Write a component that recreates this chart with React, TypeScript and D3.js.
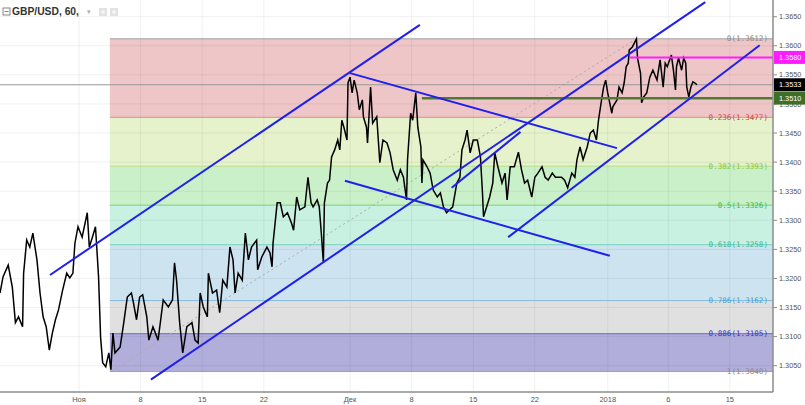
import React from 'react';
import * as d3 from 'd3';

// 2-hour bar index (trading time) and price
const bars = [0,3,8,12,15,18,22,23,26,29,32,36,39,42,45,48,51,54,57,61,65,68,71,73,76,80,85,87,90,93,94,96,98,100,103,106,108,110,112,117,120,124,128,130,133,136,139,143,145,149,154,159,164,168,170,172,175,178,182,187,190,
193,195,198,202,203,207,211,214,217,221,224,227,229,232,236,239,242,245,250,251,255,260,263,265,266,270,273,276,280,284,286,289,292,297,300,303,305,309,311,313,315,316,319,321,323,326,329,331,333,335,338,339,341,343,345,348,350,353,354,357,358,361,363,367,370,373,377,380,383,387,390,393,396,397,400,402,405,407,410,411,412,416,419,422,426,429,432,435,438,441,445,448,450,453,455,458,461,465,468,470,471,474,477,480,482,485,489,492,494,497,501,505,508,511,514,518,521,524,528,531,534,538,541,544,547,550,553,557,560,562,565,568,572,575,578,581,583,586,588,590,592,596,597,601,603,606,608,610,612,613,616,618,620,621,624,625,627,630,633,636,640,643,646,648,650,654,656,658,659,661,664,666,668,669,671,673,675,677,679];
const closes = [1.3175,1.3203,1.3223,1.3185,1.3124,1.3134,1.3117,1.3209,1.3266,1.3254,1.3278,1.3232,1.3175,1.3134,1.3117,1.3077,1.3106,1.3129,1.3146,1.3180,1.3209,1.3201,1.3209,1.3261,1.3289,1.3271,1.3313,1.3254,1.3271,1.3289,1.3261,1.3203,1.3099,1.3055,1.3048,1.3072,1.3043,1.3106,1.3072,1.3082,1.3117,1.3168,1.3175,1.3158,1.3129,1.3168,1.3172,1.3134,1.3094,1.3117,1.3094,1.3163,1.3151,1.3163,1.3227,1.3197,1.3124,1.3072,1.3117,1.3124,1.3094,
1.3089,1.3175,1.3151,1.3134,1.3209,1.3175,1.3180,1.3141,1.3197,1.3185,1.3254,1.3232,1.3175,1.3209,1.3197,1.3278,1.3232,1.3254,1.3266,1.3215,1.3237,1.3254,1.3244,1.3220,1.3261,1.3330,1.3330,1.3306,1.3313,1.3295,1.3283,1.3340,1.3318,1.3323,1.3374,1.3330,1.3323,1.3335,1.3323,1.3278,1.3227,1.3330,1.3364,1.3369,1.3409,1.3421,1.3438,1.3421,1.3472,1.3460,1.3438,1.3536,1.3546,1.3519,1.3541,1.3519,1.3490,1.3507,1.3478,1.3460,1.3433,1.3529,1.3467,1.3478,1.3399,1.3438,1.3433,1.3416,1.3387,1.3369,1.3387,1.3374,1.3335,1.3404,1.3484,1.3472,1.3519,1.3460,1.3426,1.3364,1.3404,1.3392,1.3381,1.3352,1.3340,1.3347,1.3323,1.3313,1.3318,1.3323,1.3364,1.3374,1.3421,1.3438,1.3455,1.3416,1.3438,1.3438,1.3409,1.3347,1.3306,1.3323,1.3340,1.3364,1.3416,1.3392,1.3364,1.3381,1.3335,1.3392,1.3392,1.3417,1.3387,1.3364,1.3369,1.3340,1.3374,1.3381,1.3392,1.3374,1.3369,1.3381,1.3374,1.3374,1.3374,1.3369,1.3356,1.3381,1.3374,1.3404,1.3426,1.3404,1.3426,1.3450,1.3455,1.3438,1.3472,1.3507,1.3529,1.3541,1.3519,1.3484,1.3495,1.3507,1.3529,1.3519,1.3536,1.3564,1.3570,1.3593,1.3598,1.3605,1.3612,1.3579,1.3552,1.3502,1.3512,1.3519,1.3546,1.3558,1.3541,1.3576,1.3529,1.3570,1.3564,1.3584,1.3558,1.3524,1.3564,1.3579,1.3558,1.3579,1.3570,1.3529,1.3512,1.3529,1.3538,1.3536,1.3533];

const tickBars = [77,137,197,257,341,401,461,521,592,651,711];
const tickLabels = ['Ноя','8','15','22','Дек','8','15','22','2018','6','15'];
const priceTicks = [1.305,1.31,1.315,1.32,1.325,1.33,1.335,1.34,1.345,1.35,1.355,1.36,1.365];

const fibRatios = ['0','0.236','0.382','0.5','0.618','0.786','0.886','1'];
const fibPrices = [1.3612,1.3477,1.3393,1.3326,1.3258,1.3162,1.3105,1.3040];
const fibStartBar = 107;
const fibDiag = [[108,1.3040],[620,1.3612]];

// trend lines: [bar1, price1, bar2, price2]
const trendLines = [
  [48.7,1.3206,409,1.3636],
  [147,1.3026,687,1.3675],
  [341,1.3553,601,1.3424],
  [336,1.3368,594,1.3239],
  [440,1.3356,507,1.3452],
  [495,1.3271,740,1.3601],
];

const lastPrice = 1.3533;
const magentaLevel = { price: 1.3580, fromBar: 613 };
const greenLevel = { price: 1.3510, fromBar: 411 };

const W = 805, H = 405, PR = 773, PB = 392;
const fibFill = ['#efc6c8','#e6f2cb','#c9f0c9','#c9f1e1','#cde3f0','#e0e0e0','#b2aedb'];
const fibLine = ['#a0a0a0','#e08a8a','#b9dc86','#76d476','#74d2bb','#86bcdc','#6a66cc','#a0a0a0'];
const fibText = ['#8a8a8a','#d04848','#8cc63f','#45b845','#3cb89a','#4f9fd0','#3333cc','#8a8a8a'];

export default function App() {
  const x = d3.scaleLinear().domain([0, 753]).range([0, PR]);
  const y = d3.scaleLinear().domain([1.30048, 1.36787]).range([PB, 0]);
  const line = d3.line<number>().x((_, i) => x(bars[i])).y((d) => y(d));
  const xr = x(753);
  const sans = 'Liberation Sans, Arial, sans-serif';
  return (
    <svg width={W} height={H} style={{ position: 'absolute', left: 0, top: 0, background: '#fff' }}>
      <rect x={0} y={0} width={W} height={H} fill="#fff" />
      <defs>
        <clipPath id="plot"><rect x={0} y={0} width={PR} height={PB} /></clipPath>
      </defs>
      <g clipPath="url(#plot)">
        {fibFill.map((c, i) => (
          <rect key={'fb' + i} x={x(fibStartBar)} width={xr - x(fibStartBar)}
            y={y(fibPrices[i])} height={y(fibPrices[i + 1]) - y(fibPrices[i])} fill={c} />
        ))}
        {tickBars.map((b, i) => (
          <line key={'vg' + i} x1={x(b)} x2={x(b)} y1={0} y2={PB} stroke="rgba(0,0,0,0.06)" />
        ))}
        {priceTicks.map((p, i) => (
          <line key={'hg' + i} x1={0} x2={PR} y1={y(p)} y2={y(p)} stroke="rgba(0,0,0,0.06)" />
        ))}
        {fibPrices.map((p, i) => (
          <line key={'fl' + i} x1={x(fibStartBar)} x2={xr} y1={y(p)} y2={y(p)} stroke={fibLine[i]} strokeWidth={1} />
        ))}
        <line x1={x(fibDiag[0][0])} y1={y(fibDiag[0][1])} x2={x(fibDiag[1][0])} y2={y(fibDiag[1][1])}
          stroke="#aaa" strokeWidth={1} strokeDasharray="2,3" />
        {fibPrices.map((p, i) => (
          <text key={'ft' + i} x={768} y={y(p)} dy="0.35em" textAnchor="end" fill={fibText[i]}
            fontFamily="DejaVu Sans Mono, monospace" fontSize={7.6}>{`${fibRatios[i]}(${p.toFixed(4)})`}</text>
        ))}
        <line x1={0} x2={PR} y1={y(lastPrice)} y2={y(lastPrice)} stroke="#999" strokeWidth={1} />
        <path d={line(closes) || ''} fill="none" stroke="#000" strokeWidth={1.5} strokeLinejoin="miter" />
        <line x1={x(greenLevel.fromBar)} x2={PR} y1={y(greenLevel.price)} y2={y(greenLevel.price)} stroke="#4f7a36" strokeWidth={2.5} />
        <line x1={x(magentaLevel.fromBar)} x2={PR} y1={y(magentaLevel.price)} y2={y(magentaLevel.price)} stroke="#ff1cff" strokeWidth={2} />
        {trendLines.map((t, i) => (
          <line key={'tl' + i} x1={x(t[0])} y1={y(t[1])} x2={x(t[2])} y2={y(t[3])} stroke="#1f1fee" strokeWidth={2} />
        ))}
      </g>
      <line x1={PR} x2={PR} y1={0} y2={PB} stroke="#8c8c8c" strokeWidth={1.5} />
      <line x1={0} x2={PR} y1={PB} y2={PB} stroke="#8c8c8c" strokeWidth={1.5} />
      {priceTicks.map((p, i) => (
        <g key={'pt' + i}>
          <line x1={PR} x2={PR + 4} y1={y(p)} y2={y(p)} stroke="#8c8c8c" />
          <text x={779} y={y(p)} dy="0.35em" fill="#555" fontFamily={sans} fontSize={7.3}>{p.toFixed(4)}</text>
        </g>
      ))}
      {tickBars.map((b, i) => (
        <text key={'xt' + i} x={x(b)} y={399} dy="0.35em" textAnchor="middle" fill="#555" fontFamily={sans} fontSize={7.5}>{tickLabels[i]}</text>
      ))}
      {[
        { p: magentaLevel.price, c: '#ff1cff' },
        { p: lastPrice, c: '#000' },
        { p: greenLevel.price, c: '#3e6e28' },
      ].map((o, i) => (
        <g key={'pl' + i}>
          <rect x={774} y={y(o.p) - 6.5} width={31} height={13} fill={o.c} />
          <text x={779} y={y(o.p)} dy="0.35em" fill="#fff" fontFamily={sans} fontSize={7.3}>{o.p.toFixed(4)}</text>
        </g>
      ))}
      <rect x={3} y={8} width={7} height={7} fill="none" stroke="#666" strokeWidth={0.8} />
      <line x1={4.5} x2={8.5} y1={11.5} y2={11.5} stroke="#666" strokeWidth={0.8} />
      <text x={12} y={15} fill="#333" fontFamily={sans} fontWeight="bold" fontSize={10.3}>GBP/USD, 60,</text>
      <text x={87} y={14} fill="#aaa" fontFamily={sans} fontSize={7}>▾</text>
      <rect x={99} y={8} width={8} height={8} fill="#e2e2e2" />
      <rect x={110} y={8} width={8} height={8} fill="#e2e2e2" />
      <circle cx={103} cy={12} r={2} fill="#f4f4f4" />
      <circle cx={114} cy={12} r={2} fill="#f4f4f4" />
    </svg>
  );
}
